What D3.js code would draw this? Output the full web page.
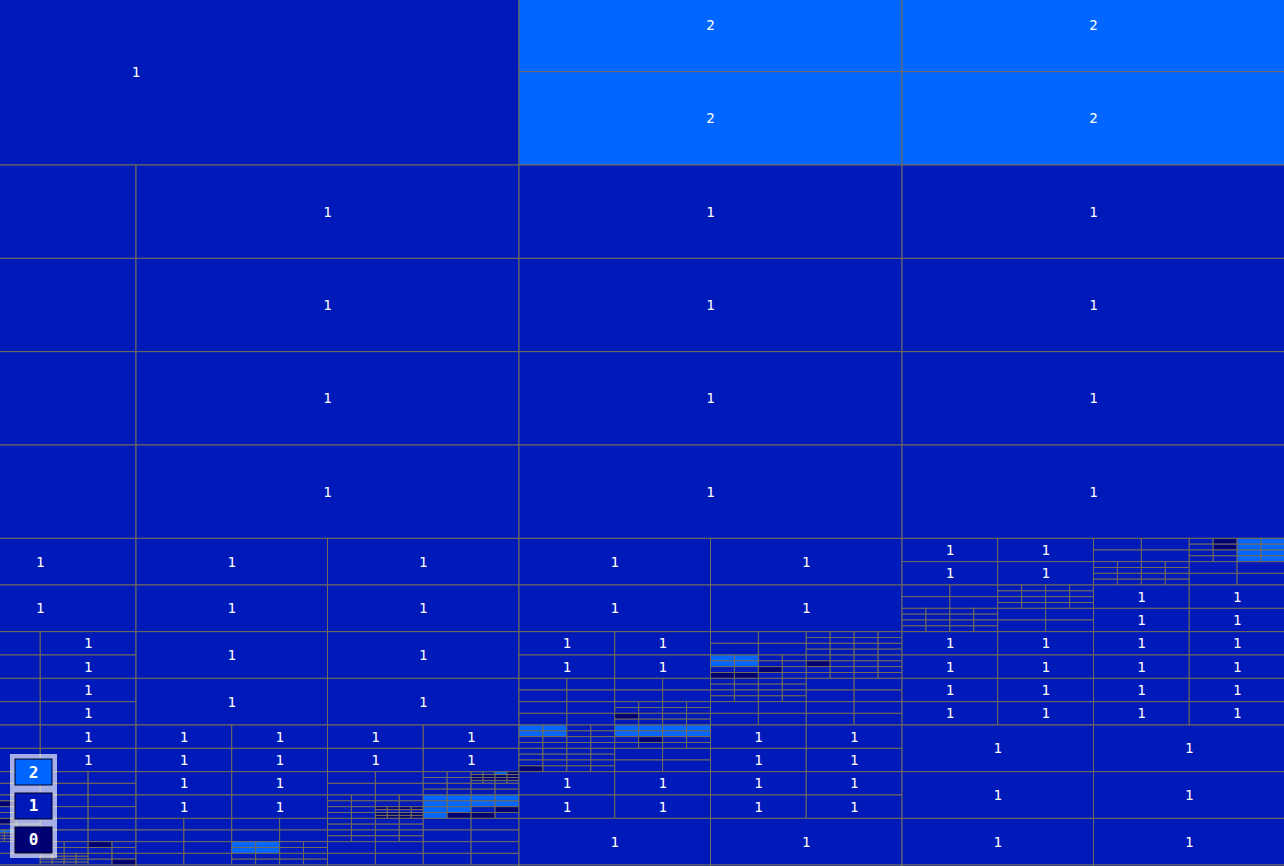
<!DOCTYPE html>
<html>
<head>
<meta charset="utf-8">
<script src="https://cdn.jsdelivr.net/npm/d3@7"></script>
<style>
  html, body { margin: 0; padding: 0; overflow: hidden; background: #0019b9; }
  svg { display: block; }
</style>
</head>
<body>
<svg id="chart" width="1284" height="866"></svg>
<script>
// ---------- DATA ----------
// Quadtree cells: a number is a leaf value, an array is [top-left, top-right, bottom-left, bottom-right]
const ones = [1, 1, 1, 1];
const twos = [2, 2, 2, 2];
const ones16 = [ones, ones, ones, ones];

const r7c0 = [1, ones, 1, ones];
const r6c3 = [
  ones,
  [ones, [[1, 0, 1, 0], twos, ones, twos], ones16, ones],
  [ones, ones16, ones16, ones],
  ones
];
const r7c2 = [
  ones,
  [ones, ones16, [twos, ones, [1, 1, 0, 0], [0, 1, 1, 1]], [[1, 1, 0, 1], ones, ones, ones]],
  [ones, ones, ones, [ones, ones, [0, 1, 1, 1], ones]],
  [ones16, ones, ones, ones]
];
const r8c0 = [1, ones, 1, [ones, ones, [ones, [1, 1, 0, 1], ones, ones], ones]];
const r8c1 = [
  ones, ones, ones,
  [
    ones,
    [ones, [[1, 1, 0, 0], [2, 0, 0, 0], [0, 0, 1, 1], [0, 0, 1, 1]], ones, ones],
    [ones, ones, ones, [[0, 0, 1, 1], [0, 0, 1, 1], [0, 0, 0, 0], [0, 0, 0, 0]]],
    [twos, twos, [2, 2, 2, 0], [1, 0, 0, 1]]
  ]
];
const r9c0 = [
  1,
  [[1, [0, 1, 1, 1], 1, [[2, 2, 1, 1], ones, ones, ones]], ones, ones, [ones, [0, 1, 1, 1], ones16, [1, 1, 1, 0]]],
  1, 1
];
const r9c1 = [[ones, ones, ones, [twos, ones, ones, ones]], [ones16, ones, ones, ones], 1, 1];
const r8c2 = [
  [[twos, ones, ones, ones], [twos, twos, [1, 0, 1, 1], ones], [ones, ones, [1, 1, 0, 1], ones], ones],
  ones, ones, ones
];

const blockCols = 2;
const blockRows = 5;
const blockTrees = [
  1, twos,
  ones, ones,
  ones, ones,
  [ones, ones, r7c0, ones], [ones, r6c3, r7c2, ones16],
  [r8c0, r8c1, r9c0, r9c1], [r8c2, ones, ones, ones]
];

const legendValues = [2, 1, 0];
const valueColors = ["#000075", "#0019b9", "#0066ff"];

// ---------- LAYOUT ----------
const W = 1284, H = 866;
const svg = d3.select("#chart");

// view window into the block grid
const x = d3.scaleLinear().domain([0, blockCols]).range([-247, 1285]);
const y = d3.scaleLinear().domain([0, blockRows]).range([-21.67, 911.67]);
const color = d3.scaleOrdinal().domain([0, 1, 2]).range(valueColors);

const leaves = [];
function collect(node, x0, y0, x1, y1) {
  if (Array.isArray(node)) {
    const xm = (x0 + x1) / 2, ym = (y0 + y1) / 2;
    collect(node[0], x0, y0, xm, ym);
    collect(node[1], xm, y0, x1, ym);
    collect(node[2], x0, ym, xm, y1);
    collect(node[3], xm, ym, x1, y1);
  } else {
    leaves.push({ value: node, x0, y0, x1, y1 });
  }
}
blockTrees.forEach((t, i) => {
  const c = i % blockCols, r = Math.floor(i / blockCols);
  collect(t, c, r, c + 1, r + 1);
});

const g = svg.append("g");
g.selectAll("rect.cell")
  .data(leaves)
  .join("rect")
  .attr("class", "cell")
  .attr("x", d => x(d.x0))
  .attr("y", d => y(d.y0))
  .attr("width", d => x(d.x1) - x(d.x0))
  .attr("height", d => y(d.y1) - y(d.y0))
  .attr("fill", d => color(d.value))
  .attr("stroke", "#726c5c")
  .attr("stroke-width", 1);

// labels only for cells large enough, whose centre lies inside the view
const labelled = leaves.filter(d => {
  const w = x(d.x1) - x(d.x0), h = y(d.y1) - y(d.y0);
  const cx = (x(d.x0) + x(d.x1)) / 2, cy = (y(d.y0) + y(d.y1)) / 2;
  return w > 60 && h > 18 && cx > 8 && cx < W - 8 && cy > 8 && cy < H - 8;
});
g.selectAll("text.lbl")
  .data(labelled)
  .join("text")
  .attr("class", "lbl")
  .attr("x", d => (x(d.x0) + x(d.x1)) / 2)
  .attr("y", d => (y(d.y0) + y(d.y1)) / 2)
  .attr("text-anchor", "middle")
  .attr("dominant-baseline", "central")
  .attr("fill", "#ffffff")
  .style("font-family", "'DejaVu Sans Mono', monospace")
  .style("font-size", "14px")
  .text(d => d.value);

// ---------- LEGEND ----------
const legend = svg.append("g").attr("transform", "translate(10,754)");
legend.append("rect")
  .attr("width", 47).attr("height", 104)
  .attr("fill", "#ffffff").attr("fill-opacity", 0.65);
const ly = d3.scaleBand().domain(legendValues).range([5, 99]).paddingInner(0.235);
const items = legend.selectAll("g.item").data(legendValues).join("g")
  .attr("class", "item")
  .attr("transform", d => `translate(5,${ly(d)})`);
items.append("rect")
  .attr("width", 37).attr("height", ly.bandwidth())
  .attr("fill", d => color(d))
  .attr("stroke", "#000022").attr("stroke-width", 1);
items.append("text")
  .attr("x", 18.5).attr("y", ly.bandwidth() / 2)
  .attr("text-anchor", "middle")
  .attr("dominant-baseline", "central")
  .attr("fill", "#ffffff")
  .style("font-family", "'DejaVu Sans Mono', monospace")
  .style("font-weight", "bold")
  .style("font-size", "16px")
  .text(d => d);
</script>
</body>
</html>
